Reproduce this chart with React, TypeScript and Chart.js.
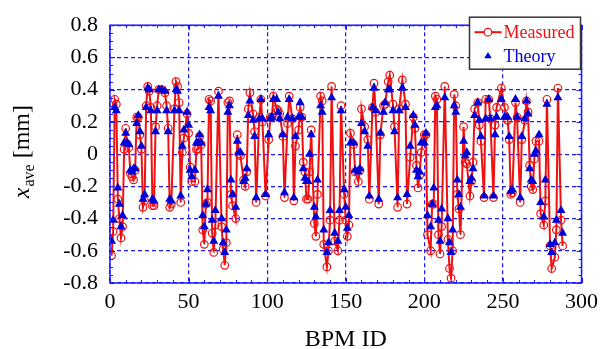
import React, { useEffect, useRef } from "react";
import { Chart, registerables } from "chart.js";

Chart.register(...registerables);

const bpmId = [
  1, 2, 3, 4, 5, 6, 7, 8, 9, 10,
  11, 12, 13, 14, 15, 16, 17, 18, 19, 20,
  21, 22, 23, 24, 25, 26, 27, 28, 29, 30,
  31, 33, 35, 36, 37, 38, 39, 41, 42, 43,
  44, 45, 46, 47, 49, 50, 51, 52, 54, 55,
  56, 57, 58, 59, 60, 61, 62, 63, 64, 65,
  66, 67, 69, 71, 72, 73, 74, 75, 76, 77,
  78, 80, 81, 82, 83, 85, 86, 87, 88, 89,
  91, 92, 93, 95, 96, 97, 99, 101, 102, 103,
  104, 106, 107, 108, 110, 111, 113, 114, 116, 117,
  118, 120, 121, 122, 123, 124, 125, 126, 127, 128,
  130, 131, 132, 134, 135, 136, 138, 139, 140, 141,
  143, 145, 146, 147, 149, 150, 151, 152, 153, 155,
  156, 158, 159, 160, 162, 164, 165, 167, 168, 169,
  171, 172, 174, 175, 177, 178, 180, 181, 183, 184,
  186, 188, 189, 191, 193, 194, 195, 196, 197, 198,
  200, 201, 202, 204, 205, 206, 207, 208, 209, 210,
  211, 213, 215, 216, 217, 218, 219, 220, 221, 222,
  223, 225, 226, 227, 229, 230, 231, 232, 234, 235,
  236, 238, 239, 241, 242, 244, 245, 246, 249, 251,
  253, 254, 255, 256, 258, 259, 261, 262, 264, 265,
  266, 267, 268, 269, 270, 271, 273, 274, 276, 277,
  278, 280, 281, 283, 284, 285, 287, 288,
];

const theory = [
  -0.54, -0.41, 0.29, 0.27, -0.21, -0.31, -0.45, -0.38, 0.07, 0.13,
  0.07, 0.06, -0.10, -0.11, -0.09, -0.09, 0.19, 0.24, 0.14, 0.05,
  -0.28, -0.25, 0.29, 0.41, 0.40, 0.27, -0.28, -0.29, 0.14, 0.27,
  0.40, 0.40, 0.39, 0.27, 0.14, -0.28, -0.29, 0.27, 0.40, 0.39,
  0.27, -0.26, 0.05, 0.15, 0.26, 0.18, -0.10, -0.14, -0.10, 0.07,
  0.07, 0.12, 0.07, -0.38, -0.45, -0.31, -0.22, 0.29, 0.27, -0.41,
  -0.54, -0.35, 0.36, -0.40, -0.55, -0.61, -0.47, 0.26, 0.30, -0.16,
  -0.25, -0.33, 0.08, 0.01, 0.01, -0.17, -0.15, -0.09, 0.24, 0.33,
  0.21, 0.11, -0.27, 0.22, 0.34, 0.22, -0.25, 0.12, 0.22, 0.23,
  0.34, 0.34, 0.26, 0.22, 0.12, -0.24, 0.23, 0.34, 0.22, -0.27,
  0.11, 0.23, 0.32, 0.23, -0.09, -0.15, -0.17, -0.17, 0.00, 0.12,
  -0.33, -0.39, -0.16, 0.30, 0.26, -0.47, -0.61, -0.55, -0.35, 0.35,
  -0.49, -0.54, -0.35, 0.27, -0.22, -0.33, -0.46, -0.38, 0.07, 0.07,
  -0.10, -0.11, -0.09, 0.19, 0.14, 0.05, -0.26, 0.29, 0.41, 0.27,
  -0.28, 0.13, 0.26, 0.32, 0.40, 0.40, 0.27, 0.14, -0.27, 0.27,
  0.41, 0.29, -0.25, 0.05, 0.24, 0.18, -0.10, -0.14, -0.11, 0.07,
  0.07, 0.13, -0.38, -0.45, -0.31, -0.21, 0.29, 0.30, -0.41, -0.54,
  -0.34, 0.35, -0.40, -0.55, -0.61, -0.47, 0.30, 0.26, -0.16, -0.25,
  -0.33, 0.08, -0.01, 0.01, -0.17, -0.15, -0.09, 0.24, 0.32, 0.21,
  0.11, -0.26, 0.22, 0.34, 0.22, -0.26, 0.12, 0.23, 0.34, 0.23,
  0.23, 0.11, -0.23, -0.22, 0.34, 0.23, -0.27, 0.11, 0.22, 0.33,
  0.25, -0.09, -0.16, -0.17, 0.00, 0.02, 0.12, -0.30, -0.39, -0.16,
  0.31, -0.56, -0.61, -0.55, -0.41, 0.35, -0.35, -0.49,
];

const measured = [
  -0.63, -0.48, 0.34, 0.31, -0.28, -0.40, -0.52, -0.45, 0.03, 0.16,
  0.06, 0.04, -0.12, -0.14, -0.16, -0.10, 0.23, 0.23, 0.12, 0.03,
  -0.33, -0.29, 0.30, 0.42, 0.39, 0.29, -0.32, -0.32, 0.17, 0.30,
  0.40, 0.40, 0.38, 0.30, 0.16, -0.33, -0.31, 0.28, 0.45, 0.42,
  0.32, -0.30, 0.01, 0.10, 0.25, 0.13, -0.08, -0.17, -0.17, 0.03,
  0.03, 0.11, 0.06, -0.47, -0.56, -0.31, -0.30, 0.34, 0.33, -0.49,
  -0.61, -0.44, 0.39, -0.45, -0.59, -0.69, -0.55, 0.32, 0.33, -0.25,
  -0.32, -0.40, 0.12, 0.00, -0.01, -0.16, -0.20, -0.11, 0.28, 0.38,
  0.25, 0.14, -0.30, 0.23, 0.34, 0.20, -0.26, 0.09, 0.23, 0.23,
  0.36, 0.28, 0.27, 0.25, 0.11, -0.27, 0.19, 0.36, 0.22, -0.29,
  0.05, 0.15, 0.29, 0.23, -0.05, -0.11, -0.28, -0.28, -0.11, 0.15,
  -0.43, -0.51, -0.25, 0.36, 0.33, -0.56, -0.70, -0.60, -0.41, 0.42,
  -0.54, -0.60, -0.41, 0.30, -0.25, -0.41, -0.51, -0.44, 0.13, 0.06,
  -0.11, -0.17, -0.10, 0.28, 0.17, 0.09, -0.28, 0.29, 0.44, 0.26,
  -0.31, 0.12, 0.30, 0.31, 0.45, 0.49, 0.31, 0.17, -0.33, 0.28,
  0.46, 0.31, -0.31, -0.02, 0.23, 0.16, -0.07, -0.21, -0.13, 0.01,
  0.12, 0.12, -0.50, -0.60, -0.31, -0.31, 0.36, 0.34, -0.50, -0.62,
  -0.45, 0.42, -0.53, -0.71, -0.77, -0.60, 0.37, 0.30, -0.25, -0.34,
  -0.50, 0.17, -0.05, -0.06, -0.26, -0.17, -0.05, 0.28, 0.32, 0.18,
  0.08, -0.27, 0.34, 0.34, 0.22, -0.27, 0.18, 0.29, 0.41, 0.29,
  0.21, 0.09, -0.25, -0.24, 0.32, 0.23, -0.30, 0.09, 0.21, 0.33,
  0.26, -0.07, -0.20, -0.22, -0.03, 0.08, 0.08, -0.37, -0.44, -0.29,
  0.34, -0.57, -0.71, -0.64, -0.47, 0.41, -0.41, -0.57,
];

const xTicks = [0, 50, 100, 150, 200, 250, 300];
const xTickLabels = ["0", "50", "100", "150", "200", "250", "300"];
const yTicks = [-0.8, -0.6, -0.4, -0.2, 0, 0.2, 0.4, 0.6, 0.8];
const yTickLabels = ["-0.8", "-0.6", "-0.4", "-0.2", "0", "0.2", "0.4", "0.6", "0.8"];
const seriesNames = ["Measured", "Theory"];
const xTitle = "BPM ID";
const yTitleMain = "x";
const yTitleSub = "ave";
const yTitleUnit = " [mm]";

const RED = "#f01010";
const BLUE = "#0000d8";
const GRID = "#1a1aff";
const FONT = "'Liberation Serif', 'Times New Roman', serif";

const decorPlugin = {
  id: "decor",
  afterDraw(chart: any) {
    const { ctx, chartArea } = chart;
    const { left, right, top, bottom } = chartArea;
    const xs = chart.scales.x;
    const ys = chart.scales.y;
    ctx.save();
    // frame
    ctx.strokeStyle = GRID;
    ctx.lineWidth = 1.5;
    ctx.setLineDash([]);
    ctx.strokeRect(left, top, right - left, bottom - top);
    // minor ticks
    ctx.lineWidth = 1;
    ctx.beginPath();
    for (let v = 0; v <= 300; v += 10) {
      const px = Math.round(xs.getPixelForValue(v)) + 0.5;
      const len = v % 50 === 0 ? 5 : 3;
      ctx.moveTo(px, bottom);
      ctx.lineTo(px, bottom - len);
      ctx.moveTo(px, top);
      ctx.lineTo(px, top + len);
    }
    for (let i = -16; i <= 16; i++) {
      const v = i * 0.05;
      const py = Math.round(ys.getPixelForValue(v)) + 0.5;
      const len = i % 4 === 0 ? 5 : 3;
      ctx.moveTo(left, py);
      ctx.lineTo(left + len, py);
      ctx.moveTo(right, py);
      ctx.lineTo(right - len, py);
    }
    ctx.stroke();

    // legend
    const lw = 111;
    const lh = 52;
    const lx = right - lw - 1;
    const ly = top - 8;
    ctx.fillStyle = "#ffffff";
    ctx.fillRect(lx, ly, lw, lh);
    ctx.strokeStyle = "#333333";
    ctx.lineWidth = 1.5;
    ctx.strokeRect(lx, ly, lw, lh);
    const r1 = ly + 15;
    const r2 = ly + 39;
    const sx = lx + 18.5;
    ctx.strokeStyle = RED;
    ctx.lineWidth = 2;
    ctx.beginPath();
    ctx.moveTo(lx + 5, r1);
    ctx.lineTo(lx + 32, r1);
    ctx.stroke();
    ctx.lineWidth = 1.2;
    ctx.beginPath();
    ctx.arc(sx, r1, 3.8, 0, Math.PI * 2);
    ctx.fillStyle = "#fff";
    ctx.fill();
    ctx.stroke();
    ctx.fillStyle = BLUE;
    ctx.beginPath();
    const tr = 4.3;
    ctx.moveTo(sx, r2 - tr);
    ctx.lineTo(sx + tr * 0.866, r2 + tr / 2);
    ctx.lineTo(sx - tr * 0.866, r2 + tr / 2);
    ctx.closePath();
    ctx.fill();
    ctx.font = `18px ${FONT}`;
    ctx.textBaseline = "middle";
    ctx.textAlign = "left";
    ctx.fillStyle = RED;
    ctx.fillText(seriesNames[0], lx + 34, r1 + 1);
    ctx.fillStyle = BLUE;
    ctx.fillText(seriesNames[1], lx + 34, r2 + 1);

    // y title
    const mainFont = `italic 24px ${FONT}`;
    const subFont = `16px ${FONT}`;
    const unitFont = `24px ${FONT}`;
    ctx.font = mainFont;
    const w1 = ctx.measureText(yTitleMain).width;
    ctx.font = subFont;
    const w2 = ctx.measureText(yTitleSub).width;
    ctx.font = unitFont;
    const w3 = ctx.measureText(yTitleUnit).width;
    const total = w1 + w2 + w3;
    const cy = (top + bottom) / 2 - 2;
    ctx.translate(29, cy + total / 2);
    ctx.rotate(-Math.PI / 2);
    ctx.fillStyle = "#000";
    ctx.textBaseline = "alphabetic";
    ctx.font = mainFont;
    ctx.fillText(yTitleMain, 0, 0);
    ctx.font = subFont;
    ctx.fillText(yTitleSub, w1 + 1, 5);
    ctx.font = unitFont;
    ctx.fillText(yTitleUnit, w1 + w2 + 1, 0);
    ctx.restore();
  },
};

export default function App() {
  const ref = useRef<HTMLCanvasElement | null>(null);
  useEffect(() => {
    if (!ref.current) return;
    const chart = new Chart(ref.current, {
      type: "scatter",
      data: {
        datasets: [
          {
            label: seriesNames[1],
            data: bpmId.map((x, i) => ({ x, y: theory[i] })),
            showLine: false,
            pointStyle: "triangle",
            pointRadius: 5.2,
            pointBackgroundColor: BLUE,
            pointBorderColor: BLUE,
            pointBorderWidth: 0,
            order: 0,
          },
          {
            label: seriesNames[0],
            data: bpmId.map((x, i) => ({ x, y: measured[i] })),
            showLine: true,
            borderColor: RED,
            borderWidth: 2,
            pointStyle: "circle",
            pointRadius: 3.8,
            pointBackgroundColor: "rgba(0,0,0,0)",
            pointBorderColor: RED,
            pointBorderWidth: 1.2,
            order: 1,
          },
        ],
      },
      options: {
        responsive: false,
        animation: false,
        devicePixelRatio: 1,
        layout: { padding: { left: 0, top: 18, right: 20, bottom: 0 } },
        plugins: { legend: { display: false }, tooltip: { enabled: false } },
        scales: {
          x: {
            type: "linear",
            min: 0,
            max: 300,
            afterBuildTicks: (s: any) => {
              s.ticks = xTicks.map((v) => ({ value: v }));
            },
            afterFit: (s: any) => {
              s.height = 66;
            },
            ticks: {
              padding: 6,
              color: "#000",
              font: { family: FONT, size: 22 },
              maxRotation: 0,
              callback: (_v: any, i: number) => xTickLabels[i],
            },
            grid: { color: GRID, lineWidth: 1.2, drawTicks: false },
            border: { display: false, dash: [4, 3] },
            title: {
              display: true,
              text: xTitle,
              color: "#000",
              font: { family: FONT, size: 24, lineHeight: 1 },
              padding: { top: 0, bottom: -3 },
            },
          },
          y: {
            type: "linear",
            min: -0.8,
            max: 0.8,
            afterBuildTicks: (s: any) => {
              s.ticks = yTicks.map((v) => ({ value: v }));
            },
            afterFit: (s: any) => {
              s.width = 110;
            },
            ticks: {
              padding: 12,
              color: "#000",
              font: { family: FONT, size: 22 },
              callback: (_v: any, i: number) => yTickLabels[i],
            },
            grid: { color: GRID, lineWidth: 1.2, drawTicks: false },
            border: { display: false, dash: [4, 3] },
          },
        },
      },
      plugins: [decorPlugin],
    });
    return () => chart.destroy();
  }, []);
  return (
    <div style={{ position: "absolute", left: 0, top: 0, width: 604, height: 349, background: "#fff" }}>
      <canvas ref={ref} width={604} height={349} style={{ display: "block" }} />
    </div>
  );
}
